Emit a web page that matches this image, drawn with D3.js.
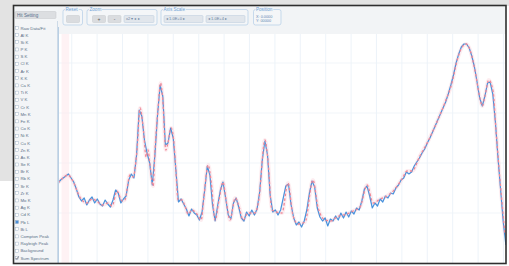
<!DOCTYPE html>
<html><head><meta charset="utf-8">
<script src="https://cdn.jsdelivr.net/npm/d3@7"></script>
<style>html,body{margin:0;padding:0;background:#fff;overflow:hidden}</style>
</head><body><svg id="c" width="509" height="266"></svg>
<script>
// ---- data ----
const channelStep = 6;          // channels between measured samples
const calibOffset = 0.46;       // keV at channel 0
const calibGain = 0.0171875;    // keV per channel
const measuredCounts = [800,830,850,870,890,850,810,740,660,620,650,580,630,660,600,640,590,570,630,590,
  560,630,730,700,600,640,670,830,890,850,1080,1530,1470,1230,1100,1000,780,1080,1480,1780,
  1670,1180,1200,1350,1250,930,610,640,590,540,470,540,500,480,430,510,730,970,880,580,
  420,580,730,810,650,480,440,600,650,560,450,420,510,470,530,480,540,710,1030,1220,
  1080,680,510,530,480,530,650,770,790,580,450,380,410,360,420,530,700,820,760,550,
  460,420,450,370,440,420,470,430,500,450,510,460,520,490,550,530,620,740,770,670,
  550,600,570,640,610,670,650,700,690,750,780,830,850,910,890,910,970,1010,1050,1100,
  1140,1200,1250,1310,1370,1430,1490,1550,1610,1690,1780,1880,2000,2090,2160,2190,2190,2150,2070,1960,
  1810,1650,1570,1670,1800,1810,1690,1410,1050,730,410,180];
const fitChannels = [0,11,23,34,50,66,78,89,101,115,124,135,147,153,165,172,181,188,195,202,206,211,218,222,229,235,240,247,252,259,265,270,275,284,291,298,307,318,328,334,344,351,360,369,378,385,394,406,415,424,435,451,460,474,481,490,513,527,538,550,566,584,596,612,625,639,662,676,692,708,722,738,754,772,788,800,811,829,848,868,887,903,914,926,935,944,955,967,972,978,987,997,1003,1011,1020,1024];
const fitCounts = [800,850,880,820,660,600,640,620,580,600,570,720,620,630,880,860,1130,1550,1360,1060,1130,970,770,1110,1530,1800,1630,1130,1200,1350,1230,930,630,630,570,490,530,490,430,650,980,810,430,630,810,630,430,650,560,430,500,500,630,1230,1030,530,500,800,480,390,410,830,550,430,420,460,490,520,560,780,600,640,670,740,840,920,920,1070,1220,1410,1610,1810,2020,2160,2190,2130,1930,1640,1570,1670,1830,1710,1350,910,470,280];
const energyTicks = [1,2,3,4,5,6,7,8,9,10,11,12,13,14,15,16,17,18];
const countTicks = [500,1000,1500,2000];
const listLabels = ["Raw Data/Fit","Al K","Si K","P K","S K","Cl K","Ar K","K K","Ca K","Ti K","V K","Cr K","Mn K","Fe K","Co K","Ni K","Cu K","Zn K","As K","Se K","Br K","Rb K","Sr K","Zr K","Mo K","Ag K","Cd K","Pb L","Bi L","Compton Peak","Rayleigh Peak","Background","Sum Spectrum"];
const checkedFilled = ["Pb L"];
const checkedTick = ["Sum Spectrum"];
const toolbarGroups = ["Reset","Zoom","Axis Scale","Position"];

// ---- drawing ----
const svg = d3.select("#c");
const font = "Liberation Sans, Arial, sans-serif";

// page background
svg.append("rect").attr("x",0).attr("y",0).attr("width",509).attr("height",266).attr("fill","#ffffff");
svg.append("rect").attr("x",0).attr("y",0).attr("width",509).attr("height",6).attr("fill","#e3e3e3");
svg.append("rect").attr("x",0).attr("y",0).attr("width",14).attr("height",181).attr("fill","#e3e3e3");

// window interior
svg.append("rect").attr("x",14).attr("y",6).attr("width",492).attr("height",257).attr("fill","#f3f5f7");

// toolbar strip
svg.append("rect").attr("x",58).attr("y",6).attr("width",448).attr("height",29).attr("fill","#f2f4f6");

// plot
const x = d3.scaleLinear().domain([0.46, 18.06]).range([58, 505]);
const y = d3.scaleLinear().domain([0, 2280]).range([263, 35]);

svg.append("rect").attr("x",58).attr("y",34).attr("width",448).attr("height",229).attr("fill","#ffffff");
svg.append("defs").append("clipPath").attr("id","clip")
  .append("rect").attr("x",58).attr("y",34).attr("width",448).attr("height",229);
const plot = svg.append("g").attr("clip-path","url(#clip)");

plot.selectAll("line.vg").data(energyTicks).join("line").attr("class","vg")
  .attr("x1",d=>x(d)).attr("x2",d=>x(d)).attr("y1",34).attr("y2",263)
  .attr("stroke","#e9f0f7").attr("stroke-width",0.8);
plot.selectAll("line.hg").data(countTicks).join("line").attr("class","hg")
  .attr("x1",58).attr("x2",506).attr("y1",d=>y(d)).attr("y2",d=>y(d))
  .attr("stroke","#eef3f8").attr("stroke-width",0.8);

// faint pink band near left edge
plot.append("rect").attr("x",x(0.6)).attr("y",34).attr("width",x(0.9)-x(0.6)).attr("height",229)
  .attr("fill","#fde9ec").attr("opacity",0.6);

const measured = measuredCounts.map((c,i)=>({e: calibOffset + i*channelStep*calibGain, c}));
const fit = fitChannels.map((ch,i)=>({e: calibOffset + ch*calibGain, c: fitCounts[i]}));

const lineM = d3.line().x(d=>x(d.e)).y(d=>y(d.c));
const lineF = d3.line().x(d=>x(d.e)).y(d=>y(d.c)).curve(d3.curveMonotoneX);

plot.append("path").datum(fit).attr("d",lineF).attr("fill","none")
  .attr("stroke","#f8ccd4").attr("stroke-width",4).attr("opacity",0.35);
plot.append("path").datum(measured).attr("d",lineM).attr("fill","none")
  .attr("stroke","#4892dc").attr("stroke-width",1.2).attr("stroke-linejoin","round");
plot.append("path").datum(fit).attr("d",lineF).attr("fill","none")
  .attr("stroke","#ee8898").attr("stroke-width",1.3).attr("stroke-dasharray","2.5,2.2");

// left axis line
svg.append("line").attr("x1",58.5).attr("x2",58.5).attr("y1",27).attr("y2",263)
  .attr("stroke","#b9cfe4").attr("stroke-width",1);

// left panel
svg.append("line").attr("x1",57.5).attr("x2",57.5).attr("y1",21).attr("y2",263)
  .attr("stroke","#c3d3e2").attr("stroke-width",0.8);
svg.append("rect").attr("x",15).attr("y",11.5).attr("width",41).attr("height",7).attr("rx",1)
  .attr("fill","#dcdee1").attr("stroke","#c4c7cb").attr("stroke-width",0.5);
svg.append("text").attr("x",17).attr("y",16.8).text("Hit Setting")
  .attr("font-family",font).attr("font-size",4.6).attr("fill","#56708c");

const rows = svg.selectAll("g.row").data(listLabels).join("g").attr("class","row")
  .attr("transform",(d,i)=>`translate(0,${28 + i*7.19})`);
rows.append("rect").attr("x",15.5).attr("y",-1.6).attr("width",3).attr("height",3)
  .attr("fill",d=>checkedFilled.includes(d)?"#4a8fd8":"#ffffff")
  .attr("stroke","#8fa6bd").attr("stroke-width",0.4);
rows.filter(d=>checkedTick.includes(d)).append("path")
  .attr("d","M15.8,0 L16.8,1.2 L18.6,-1.6").attr("fill","none").attr("stroke","#334").attr("stroke-width",0.6);
rows.append("text").attr("x",20.5).attr("y",1.5).text(d=>d)
  .attr("font-family",font).attr("font-size",4.3).attr("fill","#5a6f86");

// toolbar groups
function group(x0, w, label){
  svg.append("rect").attr("x",x0).attr("y",9.5).attr("width",w).attr("height",15.5).attr("rx",2)
    .attr("fill","#f4f6f8").attr("stroke","#b3cde6").attr("stroke-width",0.7);
  const t = svg.append("text").attr("x",x0+2.5).attr("y",11).text(label)
    .attr("font-family",font).attr("font-size",4.6).attr("fill","#6ea3d8");
  const bb = t.node().getBBox();
  svg.insert("rect", () => t.node()).attr("x",bb.x-0.5).attr("y",bb.y).attr("width",bb.width+1).attr("height",bb.height)
    .attr("fill","#f2f4f6");
}
function button(x0, w, label){
  svg.append("rect").attr("x",x0).attr("y",15.5).attr("width",w).attr("height",7).attr("rx",1)
    .attr("fill","#dadcdf").attr("stroke","#c5c9cd").attr("stroke-width",0.5);
  if(label) svg.append("text").attr("x",x0+w/2).attr("y",20.6).attr("text-anchor","middle").text(label)
    .attr("font-family",font).attr("font-size",5).attr("fill","#555");
}
group(63, 19.5, toolbarGroups[0]);
button(66.5, 13, "");
group(87, 70, toolbarGroups[1]);
button(92.5, 13, "+");
button(108, 13, "-");
svg.append("rect").attr("x",124).attr("y",15.5).attr("width",30).attr("height",7).attr("rx",1)
  .attr("fill","#e1e6ec").attr("stroke","#b9cbdd").attr("stroke-width",0.5);
svg.append("text").attr("x",126).attr("y",20.4).text("x2 ▾  ◂ ▸")
  .attr("font-family",font).attr("font-size",4).attr("fill","#6b84a0");
group(161, 87, toolbarGroups[2]);
svg.append("rect").attr("x",164).attr("y",15.5).attr("width",39).attr("height",7).attr("rx",1)
  .attr("fill","#e1e6ec").attr("stroke","#b9cbdd").attr("stroke-width",0.5);
svg.append("text").attr("x",166).attr("y",20.4).text("◂ 1.0E+0    ▸")
  .attr("font-family",font).attr("font-size",4).attr("fill","#6b84a0");
svg.append("rect").attr("x",206).attr("y",15.5).attr("width",39).attr("height",7).attr("rx",1)
  .attr("fill","#e1e6ec").attr("stroke","#b9cbdd").attr("stroke-width",0.5);
svg.append("text").attr("x",208).attr("y",20.4).text("◂ 1.0E+4    ▸")
  .attr("font-family",font).attr("font-size",4).attr("fill","#6b84a0");
group(253.5, 27.5, toolbarGroups[3]);
svg.append("text").attr("x",256).attr("y",17.5).text("X: 0.0000")
  .attr("font-family",font).attr("font-size",3.8).attr("fill","#5f86b3");
svg.append("text").attr("x",256).attr("y",22.3).text("Y: 00000")
  .attr("font-family",font).attr("font-size",3.8).attr("fill","#5f86b3");

// window frame
svg.append("rect").attr("x",13.5).attr("y",5.5).attr("width",492.5).attr("height",258)
  .attr("fill","none").attr("stroke","#2f2f2f").attr("stroke-width",1.6);
</script>
</body></html>
